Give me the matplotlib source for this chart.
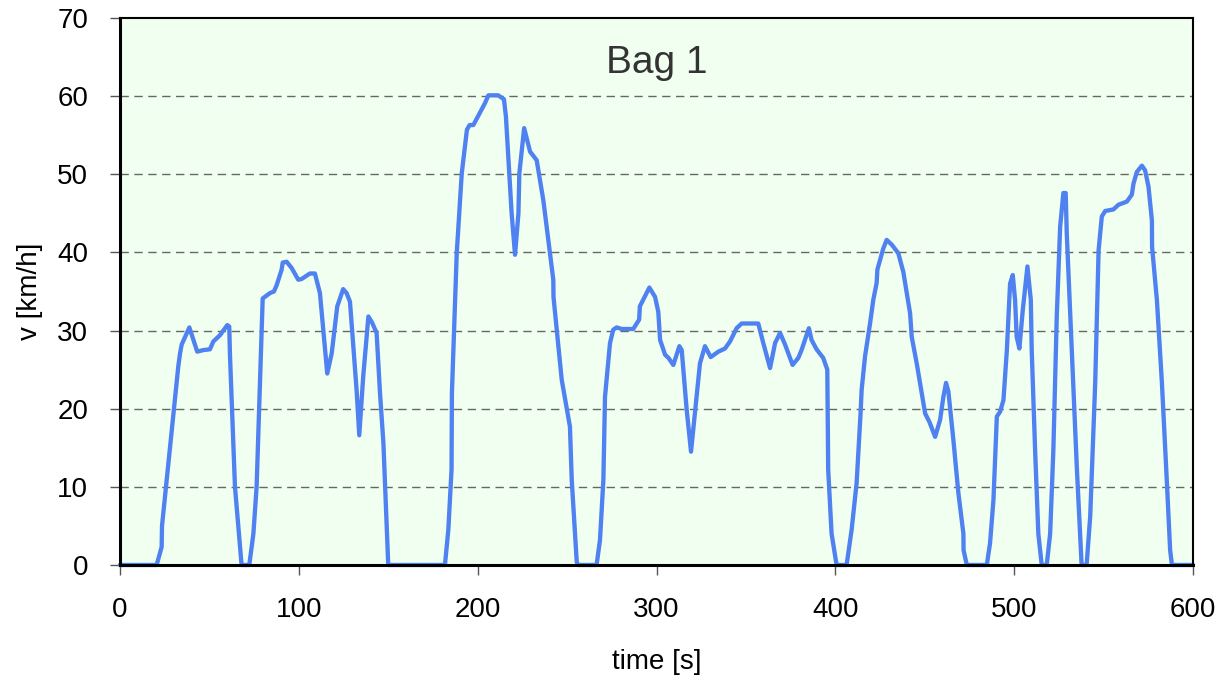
import numpy as np
import matplotlib
matplotlib.use('Agg')
import matplotlib.pyplot as plt

# speed trace (time in s, speed in km/h)
time = [0, 20.5, 23.3, 23.5, 32.6, 33.6, 34.5, 38.8, 43.2, 46.6, 50.3, 52.2, 55.9, 60, 61.1, 61.5, 64.3, 68,
        72.3, 74.6, 76.4, 79.2, 79.8, 83.9, 86.1, 87.6, 90.4, 91, 93.2, 96, 99.7, 101.6, 106.2, 109, 111.8,
        114, 115.9, 118.4, 121.5, 124.8, 126.7, 128.6, 132.3, 133.8, 136, 138.9, 141, 143.5, 145.4, 147.3, 150,
        181.7, 183.6, 185.4, 185.6, 188.3, 191.1, 194, 195.5, 197.6, 204.1, 206, 211.5, 214.7, 215.8, 219,
        220.9, 222.8, 223.3, 226, 229.3, 233, 236.7, 242.3, 242.4, 247, 251.6, 252.6, 255.4, 256,
        266.5, 268.4, 270.3, 271.2, 274, 275.8, 277.7, 280.5, 287, 290.3, 290.7, 296, 299.2, 301, 302, 304.8,
        306.7, 309.4, 312.8, 314.1, 316.9, 319.3, 322.4, 324.3, 327.1, 330.3, 334.6, 338.3, 341.1, 344.8,
        347.6, 356.9, 359.7, 363.5, 366.3, 369.1, 371.9, 376.1, 379.3, 381.1, 385.2, 386.7, 389.5, 393.2,
        395.5, 396, 397.9, 400.7, 406.3, 409.1, 411.9, 414.1, 414.7, 416.6, 419.4, 421.2, 423.1, 423.5,
        426.8, 428.7, 431.5, 435.2, 438, 441.8, 442.7, 445.5, 448.3, 450.2, 452.6, 455.8, 458.6, 460.4,
        461.9, 463.2, 466, 468.8, 471.6, 471.7, 473.5, 484.7, 486.5, 488.4, 490.3, 492.1, 494, 495.9,
        497.7, 499.2, 500.5, 501.4, 502.9, 504.8, 507.4, 509.3, 509.8, 511.7, 513.5, 515.4, 518.2, 520.1,
        521.9, 523.8, 525.7, 527.5, 528.8, 529.4, 532.2, 535, 537.7, 540.5, 542.5, 545.3, 547.2, 549,
        550.9, 555.5, 558.3, 563, 565.8, 566.7, 568.6, 571.4, 573.2, 575.1, 577, 577.1, 579.8, 582.6,
        585.4, 587.2, 588.2, 600]
speed = [0, 0, 2.3, 5, 25.4, 27.1, 28.2, 30.4, 27.3, 27.5, 27.6, 28.6, 29.4, 30.7, 30.5, 26.9, 10, 0,
         0, 4, 10, 30, 34.1, 34.8, 35, 35.8, 37.8, 38.7, 38.8, 38, 36.5, 36.6, 37.3, 37.3, 34.8,
         29.2, 24.5, 27.1, 33.1, 35.3, 34.8, 33.7, 22.4, 16.6, 24.1, 31.8, 31, 29.7, 22, 15.6, 0,
         0, 4.5, 12.2, 22, 39.9, 50.1, 55.7, 56.3, 56.3, 59.1, 60.1, 60.1, 59.6, 57.4, 45,
         39.7, 45, 50.1, 55.9, 52.9, 51.8, 46.7, 36.5, 34.3, 23.7, 17.7, 10.9, 0.4, 0,
         0, 3.2, 10.9, 21.5, 28.4, 30.1, 30.4, 30.2, 30.2, 31.4, 33.1, 35.5, 34.3, 32.4, 28.8, 26.9,
         26.5, 25.6, 28, 27.5, 19.8, 14.5, 21.5, 25.8, 28, 26.6, 27.3, 27.7, 28.6, 30.3,
         30.9, 30.9, 28.4, 25.2, 28.4, 29.7, 28.2, 25.6, 26.5, 27.5, 30.3, 28.8, 27.6, 26.5,
         25, 12.2, 4, 0, 0, 4.5, 10.5, 19.4, 22.4, 26.7, 30.9, 33.9, 36.1, 37.8,
         40.5, 41.6, 41, 39.9, 37.5, 32.2, 29.2, 25.8, 22, 19.4, 18.3, 16.4, 18.6, 21.5,
         23.3, 22.2, 16, 9.2, 4, 1.9, 0, 0, 2.8, 8.3, 19, 19.6, 21.1, 27.5,
         36, 37.1, 33.9, 29.2, 27.7, 32.6, 38.2, 33.9, 27.5, 14.7, 4, 0, 0, 4,
         14.7, 31.8, 43.3, 47.6, 47.6, 42.4, 27.5, 12.6, 0, 0, 6.2, 23.3, 40.3, 44.6,
         45.3, 45.5, 46.1, 46.5, 47.4, 48.8, 50.3, 51.1, 50.5, 48.4, 44.1, 40.7, 33.9, 23.3,
         10.5, 1.9, 0, 0]

xticks = [0, 100, 200, 300, 400, 500, 600]
yticks = [0, 10, 20, 30, 40, 50, 60, 70]

plt.rcParams['font.family'] = ['Liberation Sans', 'DejaVu Sans']

fig = plt.figure(figsize=(12.18, 6.78), dpi=100)
ax = fig.add_axes([0.0985, 0.1667, 0.881, 0.8068])
ax.set_facecolor('#F0FFF0')

for y in yticks[1:-1]:
    ax.axhline(y, color='#666666', lw=1.0, ls=(0, (6, 4)), zorder=1)

ax.plot(time, speed, color='#4F81F0', lw=3.1, solid_joinstyle='round', solid_capstyle='round',
        zorder=2, clip_on=False)

ax.set_xlim(0, 600)
ax.set_ylim(0, 70)
ax.set_xticks(xticks)
ax.set_yticks(yticks)
ax.tick_params(axis='both', labelsize=20, length=7, width=1, direction='out', color='#555555', pad=16)
for s in ax.spines.values():
    s.set_linewidth(1.5)
    s.set_zorder(3)
ax.spines['bottom'].set_linewidth(2.2)
ax.spines['left'].set_linewidth(2.2)

ax.set_xlabel('time [s]', fontsize=20, labelpad=19)
ax.set_ylabel('v [km/h]', fontsize=20, labelpad=10)
ax.text(0.5, 0.8995, 'Bag 1', transform=ax.transAxes, ha='center', va='baseline',
        fontsize=28, color='#333333')

fig.savefig('out.png', dpi=100)
